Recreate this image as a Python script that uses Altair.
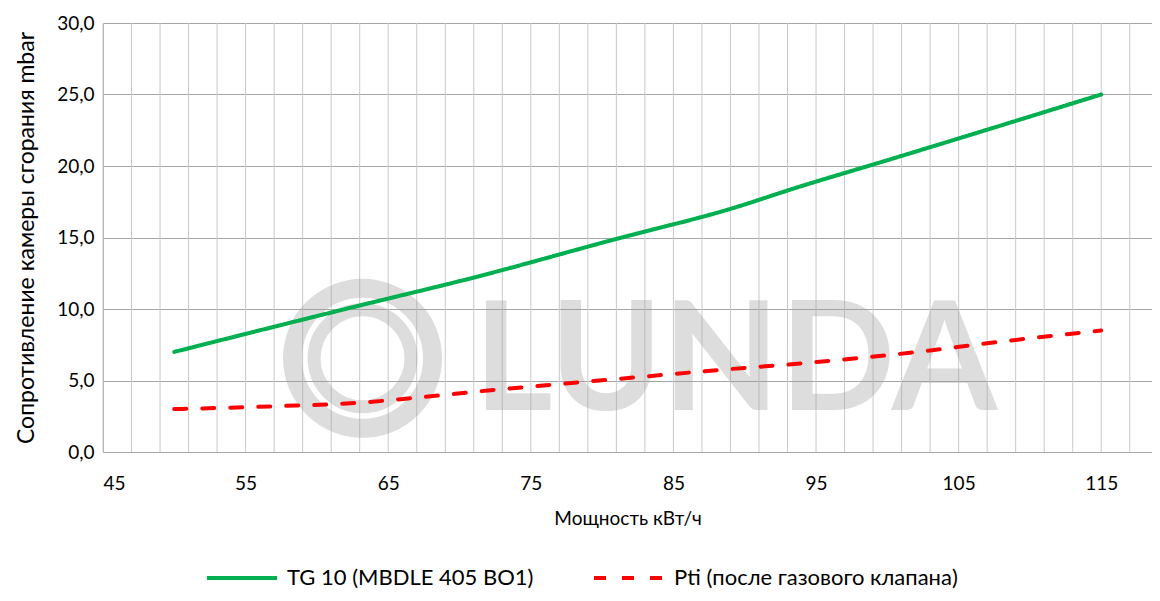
import altair as alt
import pandas as pd

# ---- data ----
series_names = ["TG 10 (MBDLE 405 BO1)", "Pti (после газового клапана)"]

green_x = [50, 62, 71.4, 81, 89, 94, 99, 115]
green_y = [7.0, 10.0, 12.3, 14.9, 17.0, 18.6, 20.1, 25.0]

red_x = [50, 57, 63, 67, 72, 81, 89, 94, 103, 107, 115]
red_y = [3.0, 3.2, 3.45, 3.8, 4.3, 5.1, 5.8, 6.2, 7.1, 7.6, 8.5]

x_grid_values = list(range(45, 121, 2))
x_label_values = [45, 55, 65, 75, 85, 95, 105, 115]
y_tick_values = [0, 5, 10, 15, 20, 25, 30]

x_title = "Мощность кВт/ч"
y_title = "Сопротивление камеры сгорания mbar"

# watermark (logo) anchor points in data units
wm_ring_x = [63.2]
wm_ring_y = [6.55]
wm_text_x = [71.0]
wm_text_y = [2.95]
wm_text = ["LUNDA"]

FONT = "Lato"

rows = []
for x, y in zip(green_x, green_y):
    rows.append({"x": x, "y": y, "series": series_names[0]})
for x, y in zip(red_x, red_y):
    rows.append({"x": x, "y": y, "series": series_names[1]})
df = pd.DataFrame(rows)

grid_df = pd.DataFrame({"x": x_grid_values})
wm_ring = pd.DataFrame({"x": wm_ring_x, "y": wm_ring_y})
wm_txt = pd.DataFrame({"x": wm_text_x, "y": wm_text_y, "t": wm_text})

x_scale = alt.Scale(domain=[45, 118.56], nice=False, zero=False)
y_scale = alt.Scale(domain=[0, 30], nice=False)

x_axis = alt.Axis(
    values=x_label_values,
    labelOverlap=False,
    ticks=False,
    labelPadding=22,
    labelFontSize=19,
    labelFont=FONT,
    labelColor="#000000",
    grid=False,
    domain=False,
    title=x_title,
    titleFont=FONT,
    titleFontSize=19,
    titleFontWeight="normal",
    titleColor="#000000",
    titlePadding=16,
)
y_axis = alt.Axis(
    values=y_tick_values,
    labelExpr="replace(format(datum.value, '.1f'), '.', ',')",
    ticks=False,
    labelPadding=9,
    labelFontSize=19,
    labelFont=FONT,
    labelColor="#000000",
    grid=True,
    gridColor="#a6a6a6",
    gridWidth=1,
    domain=True,
    domainColor="#a6a6a6",
    title=y_title,
    titleFont=FONT,
    titleFontSize=23,
    titleFontWeight="normal",
    titleColor="#000000",
    titlePadding=18,
)

vgrid = alt.Chart(grid_df).mark_rule(color="#c9c9c9", strokeWidth=1).encode(
    x=alt.X("x:Q", scale=x_scale, axis=x_axis)
)

outer_ring = alt.Chart(wm_ring).mark_point(
    shape="circle", size=19600, filled=False, stroke="#9a9a9a",
    strokeWidth=19, opacity=0.33,
).encode(x=alt.X("x:Q"), y=alt.Y("y:Q", scale=y_scale, axis=y_axis))

inner_ring = alt.Chart(wm_ring).mark_point(
    shape="circle", size=9400, filled=False, stroke="#9a9a9a",
    strokeWidth=13, opacity=0.33,
).encode(x="x:Q", y="y:Q")

wm_label = alt.Chart(wm_txt).mark_text(
    font=FONT, fontSize=152, fontWeight="bold", align="left", baseline="alphabetic",
    color="#9a9a9a", opacity=0.33,
).encode(x="x:Q", y="y:Q", text="t:N")

lines = alt.Chart(df).mark_line(strokeWidth=4, strokeCap="round", interpolate="monotone").encode(
    x="x:Q",
    y="y:Q",
    color=alt.Color(
        "series:N",
        scale=alt.Scale(domain=series_names, range=["#00b050", "#ff0000"]),
        legend=alt.Legend(
            title=None,
            orient="none",
            direction="horizontal",
            legendX=102,
            legendY=518,
            symbolType="stroke",
            symbolSize=4900,
            symbolStrokeWidth=4,
            labelFont=FONT,
            labelFontSize=22,
            labelColor="#000000",
            labelOffset=8,
            columnPadding=52,
            labelLimit=500,
        ),
    ),
    strokeDash=alt.StrokeDash(
        "series:N",
        scale=alt.Scale(domain=series_names, range=[[1, 0], [12, 16]]),
        legend=None,
    ),
)

chart = (
    alt.layer(vgrid, outer_ring, inner_ring, wm_label, lines)
    .properties(
        width=1049,
        height=429,
        autosize=alt.AutoSizeParams(type="none"),
        padding={"left": 95, "top": 15, "right": 0, "bottom": 141},
    )
    .configure_view(stroke="#c9c9c9", strokeWidth=1)
    .configure(background="#ffffff")
)

chart.save("out.html", embed_options={"renderer": "svg", "actions": False})
